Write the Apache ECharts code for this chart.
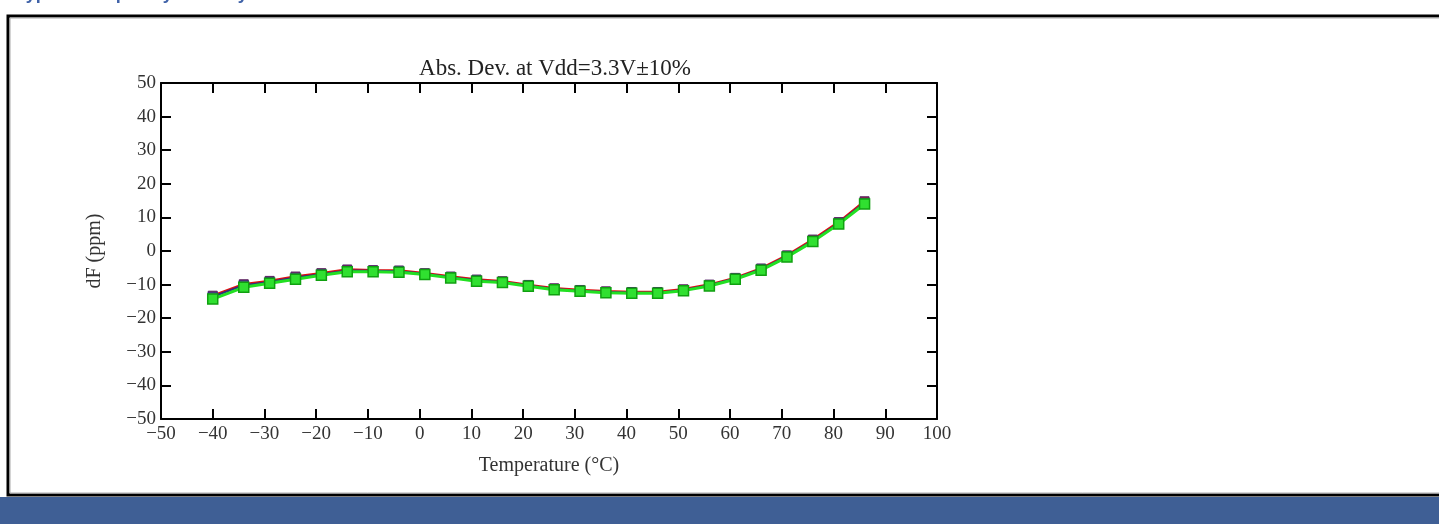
<!DOCTYPE html>
<html>
<head>
<meta charset="utf-8">
<script src="https://cdn.jsdelivr.net/npm/echarts@6/dist/echarts.min.js"></script>
<style>
html,body{margin:0;padding:0;background:#fff;}
#c{width:1439px;height:524px;}
</style>
</head>
<body>
<div id="c"></div>
<script>
const titleText = 'Abs. Dev. at Vdd=3.3V±10%';
const xName = 'Temperature (°C)';
const yName = 'dF (ppm)';
const temps = [-40,-34,-29,-24,-19,-14,-9,-4,1,6,11,16,21,26,31,36,41,46,51,56,61,66,71,76,81,86];
const redVals = [-13.3,-9.9,-8.9,-7.6,-6.6,-5.5,-5.7,-5.8,-6.6,-7.6,-8.5,-9.0,-10.1,-11.1,-11.6,-12.0,-12.2,-12.2,-11.4,-10.0,-8.0,-5.2,-1.3,3.4,8.6,14.8];
const blueVals = [-13.6,-10.2,-9.2,-7.9,-6.9,-5.8,-5.9,-6.0,-6.8,-7.8,-8.7,-9.2,-10.3,-11.3,-11.8,-12.2,-12.4,-12.4,-11.6,-10.2,-8.2,-5.4,-1.5,3.1,8.3,14.4];
const greenVals = [-14.3,-10.8,-9.6,-8.4,-7.2,-6.2,-6.2,-6.3,-7.0,-8.0,-9.0,-9.4,-10.5,-11.5,-12.0,-12.4,-12.6,-12.6,-11.8,-10.4,-8.4,-5.7,-1.8,2.8,8.0,14.0];

const pair = vals => temps.map((t, i) => [t, vals[i]]);
const serif = '"Liberation Serif", "Times New Roman", serif';
const fmt = v => String(v).replace('-', '\u2212');

const chart = echarts.init(document.getElementById('c'), null, {renderer: 'canvas'});
const axisLine = {show: true, onZero: false, lineStyle: {color: '#000', width: 2}};
const tick = {show: true, inside: true, length: 10, lineStyle: {color: '#000', width: 2}};
const lbl = {formatter: fmt, fontFamily: serif, fontSize: 19, color: '#333'};

chart.setOption({
  animation: false,
  title: {
    text: titleText, left: 550, top: 52, textAlign: 'center',
    textStyle: {fontFamily: serif, fontSize: 23, fontWeight: 'normal', color: '#222'}
  },
  grid: {left: 161, right: 502, top: 83, bottom: 105},
  xAxis: [{
    type: 'value', min: -50, max: 100, interval: 10, position: 'bottom',
    axisLine, axisTick: tick, splitLine: {show: false},
    axisLabel: Object.assign({margin: 6}, lbl),
    name: xName, nameLocation: 'middle', nameGap: 37,
    nameTextStyle: {fontFamily: serif, fontSize: 20, color: '#333'}
  }, {
    type: 'value', min: -50, max: 100, interval: 10, position: 'top',
    axisLine, axisTick: tick, axisLabel: {show: false}, splitLine: {show: false}
  }],
  yAxis: [{
    type: 'value', min: -50, max: 50, interval: 10, position: 'left',
    axisLine, axisTick: tick, splitLine: {show: false},
    axisLabel: Object.assign({margin: 5}, lbl),
    name: yName, nameLocation: 'middle', nameGap: 56,
    nameTextStyle: {fontFamily: serif, fontSize: 20, color: '#333'}
  }, {
    type: 'value', min: -50, max: 50, interval: 10, position: 'right',
    axisLine, axisTick: tick, axisLabel: {show: false}, splitLine: {show: false}
  }],
  series: [
    {type: 'line', data: pair(redVals), symbol: 'rect', symbolSize: 9,
     lineStyle: {color: '#e01010', width: 2.5}, itemStyle: {color: '#d02020', borderColor: '#552266', borderWidth: 1}},
    {type: 'line', data: pair(blueVals), symbol: 'rect', symbolSize: 9,
     lineStyle: {color: '#303080', width: 2}, itemStyle: {color: '#606090', borderColor: '#303080', borderWidth: 1}},
    {type: 'line', data: pair(greenVals), symbol: 'rect', symbolSize: 10,
     lineStyle: {color: '#22e022', width: 3}, itemStyle: {color: '#30e030', borderColor: '#10a010', borderWidth: 1.5}}
  ],
  graphic: [
    {type: 'rect', shape: {x: 8, y: 16, width: 1440, height: 479},
     style: {fill: 'none', stroke: '#000', lineWidth: 3}, z: -1},
    {type: 'rect', shape: {x: 10, y: 18, width: 1440, height: 475},
     style: {fill: 'none', stroke: '#aaa', lineWidth: 1}, z: -1},
    {type: 'rect', shape: {x: 0, y: 497, width: 1439, height: 27},
     style: {fill: '#3F5F95'}, z: -1},
    {type: 'text', x: 16, y: -15,
     style: {text: 'Typical Frequency Stability', fill: '#3F62A8', verticalAlign: 'top',
             font: 'bold 18px "Liberation Sans", Arial, sans-serif'}}
  ]
});
</script>
</body>
</html>
